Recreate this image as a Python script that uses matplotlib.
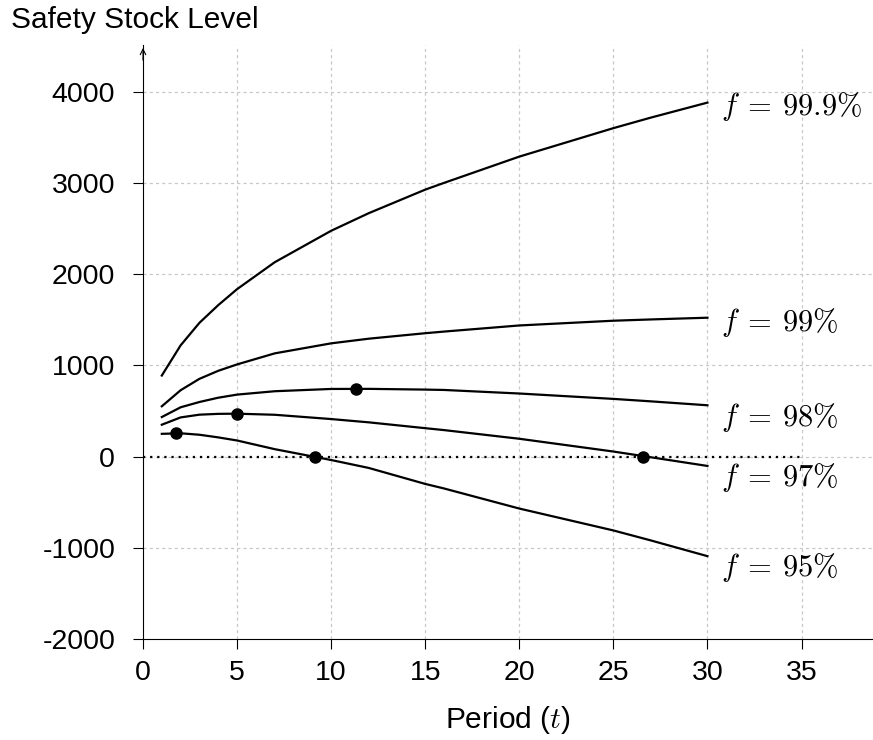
import matplotlib
matplotlib.use("Agg")
import matplotlib.pyplot as plt

plt.rcParams['font.family'] = ['Liberation Sans', 'DejaVu Sans']
plt.rcParams['mathtext.fontset'] = 'cm'
plt.rcParams['axes.unicode_minus'] = False

# data
periods = [1, 2, 3, 4, 5, 7, 10, 12, 15, 16, 20, 25, 27, 30]
ss_999 = [888, 1219, 1466, 1660, 1835, 2130, 2475, 2668, 2926, 3000, 3288, 3600, 3716, 3880]
ss_99 = [551, 727, 852, 940, 1010, 1131, 1241, 1292, 1352, 1370, 1437, 1489, 1503, 1522]
ss_98 = [433, 540, 598, 645, 679, 716, 741, 742, 734, 730, 691, 632, 605, 562]
ss_97 = [349, 429, 459, 468, 470, 458, 411, 375, 311, 290, 195, 55, -8, -103]
ss_95 = [249, 255, 239, 210, 176, 81, -38, -125, -300, -350, -570, -810, -920, -1092]
curves = [ss_999, ss_99, ss_98, ss_97, ss_95]
labels = [r"$f\:=\:99.9\%$", r"$f\:=\:99\%$", r"$f\:=\:98\%$", r"$f\:=\:97\%$", r"$f\:=\:95\%$"]
label_y = [3748, 1381, 332, -325, -1304]

# points where the curves peak or cross zero
dot_t = [1.75, 9.15, 5.0, 26.6, 11.3]
dot_y = [255, 0, 470, 0, 741]

xticks = [0, 5, 10, 15, 20, 25, 30, 35]
yticks = [-2000, -1000, 0, 1000, 2000, 3000, 4000]

fig = plt.figure(figsize=(8.73, 7.4), dpi=100)
ax = fig.add_axes([0.1638, 0.1365, 0.8362, 0.8025])

ax.set_xlim(0, 38.8)
ax.set_ylim(-2000, 4510)

# dashed grid
for x in xticks[1:]:
    ax.axvline(x, color='#c8c8c8', lw=0.9, ls=(0, (2.5, 2.5)), zorder=0)
for y in yticks[1:]:
    ax.axhline(y, color='#c8c8c8', lw=0.9, ls=(0, (2.5, 2.5)), zorder=0)

# zero line
ax.plot([0, 35], [0, 0], color='black', lw=1.6, ls=(0, (1, 2.2)), zorder=1)

for vals, lab, ly in zip(curves, labels, label_y):
    ax.plot(periods, vals, color='black', lw=1.6, zorder=2)
    ax.text(30.7, ly, lab, fontsize=22, va='baseline', ha='left')

ax.plot(dot_t, dot_y, 'o', color='black', ms=8, zorder=3)

ax.set_xticks(xticks)
ax.set_yticks(yticks)
ax.set_yticklabels([str(v) for v in yticks])
ax.tick_params(labelsize=20.5, length=7, width=0.8, direction='out')
ax.tick_params(axis='x', pad=8)
ax.tick_params(axis='y', pad=13)

for s in ['top', 'right']:
    ax.spines[s].set_visible(False)
ax.spines['left'].set_linewidth(0.8)
ax.spines['bottom'].set_linewidth(0.8)

ax.annotate('', xy=(0, 1.0), xycoords='axes fraction', xytext=(0, 0.97),
            arrowprops=dict(arrowstyle='->', lw=0.8, color='black'))

fig.text(0.013, 0.9618, "Safety Stock Level", fontsize=21.5, va='baseline', ha='left')
fig.text(0.582, 0.0162, r"Period ($t$)", fontsize=21.5, va='baseline', ha='center')

fig.savefig("out.png", dpi=100)
